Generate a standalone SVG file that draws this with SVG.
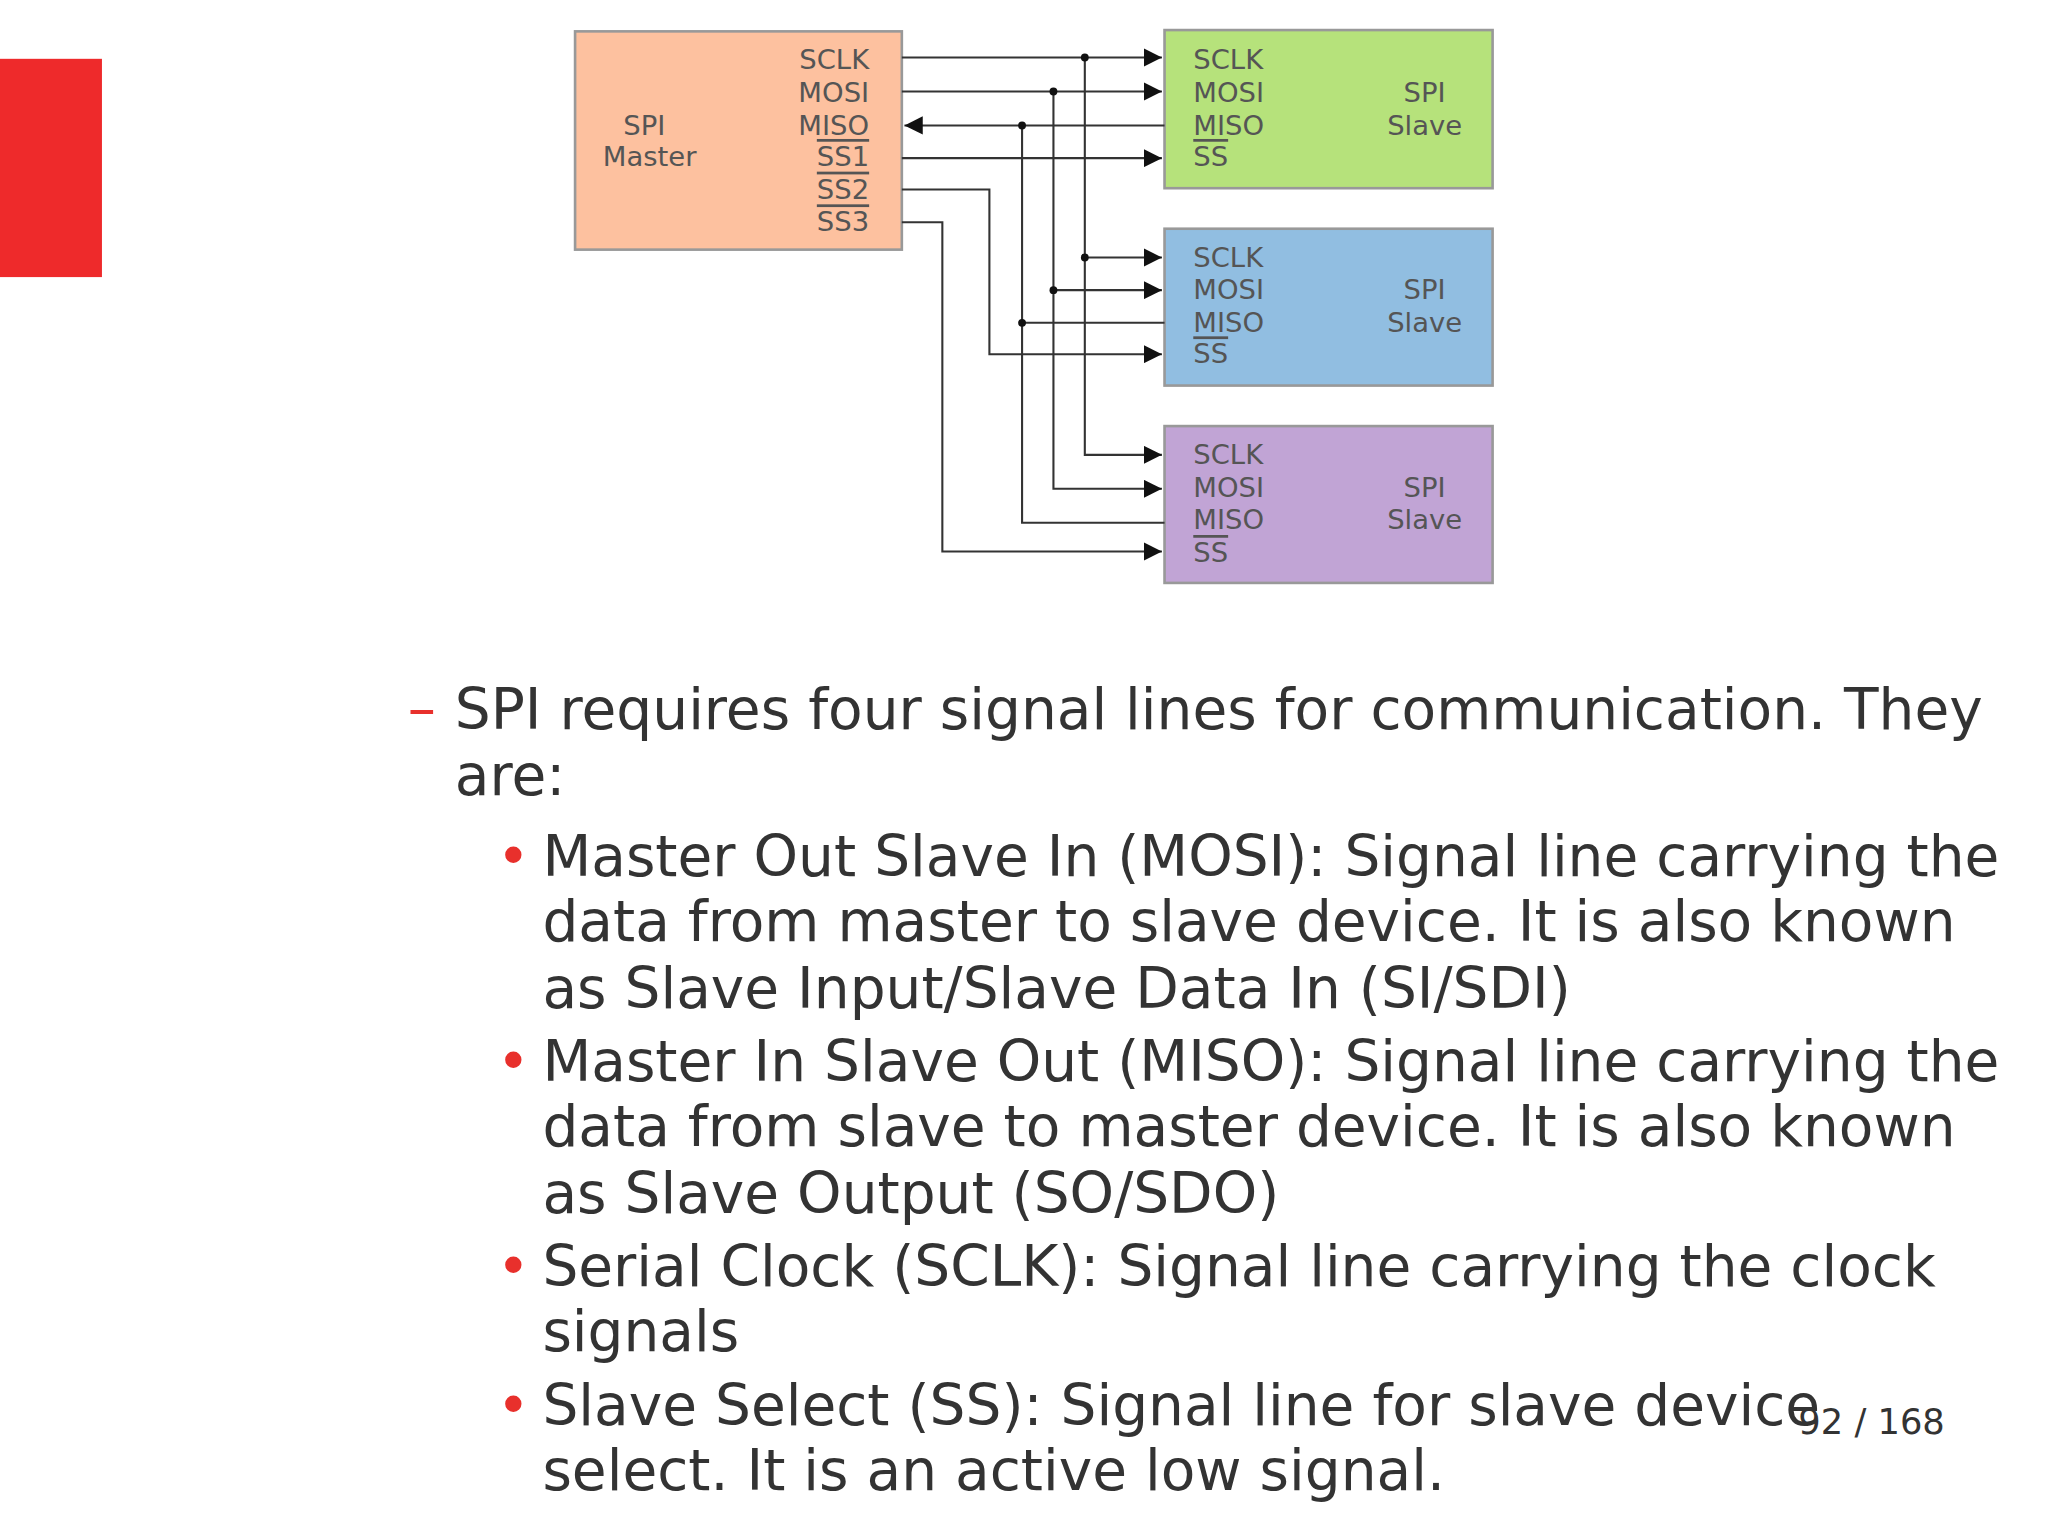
<svg xmlns="http://www.w3.org/2000/svg" width="2048" height="1536" viewBox="0 0 2048 1536">
<style>
.lbl{font-family:"DejaVu Sans",sans-serif;font-size:21px;fill:#555}
.w{stroke:#333;stroke-width:1.6;fill:none}
.b{font-family:"DejaVu Sans",sans-serif;font-size:43.3px;fill:#333}
.bul{font-family:"DejaVu Sans",sans-serif;font-size:43px;fill:#e8302c}
</style>
<defs><marker id="ah" viewBox="0 0 10 10" refX="10" refY="5" markerWidth="14" markerHeight="14" orient="auto" markerUnits="userSpaceOnUse"><path d="M0,0L10,5L0,10z" fill="#111"/></marker></defs>
<rect width="2048" height="1536" fill="#fff"/>
<g transform="scale(1.307)">
<rect x="0" y="45" width="78" height="167" fill="#ee2a2b"/>
<g id="master"><rect x="440" y="24" width="250" height="167" fill="#fdc19f" stroke="#999" stroke-width="2"/>
<text class="lbl" x="493" y="103" text-anchor="middle">SPI</text><text class="lbl" x="497" y="127" text-anchor="middle">Master</text>
<g text-anchor="end"><text class="lbl" x="665" y="53">SCLK</text><text class="lbl" x="665" y="78">MOSI</text><text class="lbl" x="665" y="103">MISO</text><text class="lbl" x="665" y="127" text-decoration="overline">SS1</text><text class="lbl" x="665" y="152" text-decoration="overline">SS2</text><text class="lbl" x="665" y="177" text-decoration="overline">SS3</text></g></g>
<g id="slave1"><rect x="891" y="23" width="251" height="121" fill="#b6e27b" stroke="#999" stroke-width="2"/>
<text class="lbl" x="913" y="53">SCLK</text><text class="lbl" x="913" y="78">MOSI</text><text class="lbl" x="913" y="103">MISO</text><text class="lbl" x="913" y="127" text-decoration="overline">SS</text>
<text class="lbl" x="1090" y="78" text-anchor="middle">SPI</text><text class="lbl" x="1090" y="103" text-anchor="middle">Slave</text></g>
<g id="slave2"><rect x="891" y="175" width="251" height="120" fill="#91bee1" stroke="#999" stroke-width="2"/>
<text class="lbl" x="913" y="204">SCLK</text><text class="lbl" x="913" y="229">MOSI</text><text class="lbl" x="913" y="254">MISO</text><text class="lbl" x="913" y="278" text-decoration="overline">SS</text>
<text class="lbl" x="1090" y="229" text-anchor="middle">SPI</text><text class="lbl" x="1090" y="254" text-anchor="middle">Slave</text></g>
<g id="slave3"><rect x="891" y="326" width="251" height="120" fill="#c1a4d5" stroke="#999" stroke-width="2"/>
<text class="lbl" x="913" y="355">SCLK</text><text class="lbl" x="913" y="380">MOSI</text><text class="lbl" x="913" y="405">MISO</text><text class="lbl" x="913" y="430" text-decoration="overline">SS</text>
<text class="lbl" x="1090" y="380" text-anchor="middle">SPI</text><text class="lbl" x="1090" y="405" text-anchor="middle">Slave</text></g>
<g id="connectors">
<path class="w" d="M690,44H889" marker-end="url(#ah)"/>
<path class="w" d="M690,70H889" marker-end="url(#ah)"/>
<path class="w" d="M891,96H692" marker-end="url(#ah)"/>
<path class="w" d="M690,121H889" marker-end="url(#ah)"/>
<path class="w" d="M830,44V348H889" marker-end="url(#ah)"/>
<path class="w" d="M806,70V374H889" marker-end="url(#ah)"/>
<path class="w" d="M782,96V400H891"/>
<path class="w" d="M830,197H889" marker-end="url(#ah)"/>
<path class="w" d="M806,222H889" marker-end="url(#ah)"/>
<path class="w" d="M782,247H891"/>
<path class="w" d="M690,145H757V271H889" marker-end="url(#ah)"/>
<path class="w" d="M690,170H721V422H889" marker-end="url(#ah)"/>
<g fill="#111"><circle cx="830" cy="44" r="3"/><circle cx="806" cy="70" r="3"/><circle cx="782" cy="96" r="3"/><circle cx="830" cy="197" r="3"/><circle cx="806" cy="222" r="3"/><circle cx="782" cy="247" r="3"/></g>
</g>
<text class="bul" x="312" y="557">–</text>
<text class="b" x="348" y="558">SPI requires four signal lines for communication. They</text>
<text class="b" x="348" y="608">are:</text>
<text class="bul" x="380" y="670">•</text><text class="bul" x="380" y="827">•</text><text class="bul" x="380" y="984">•</text><text class="bul" x="380" y="1090">•</text>
<text class="b" x="415" y="670">Master Out Slave In (MOSI): Signal line carrying the</text>
<text class="b" x="415" y="720">data from master to slave device. It is also known</text>
<text class="b" x="415" y="771">as Slave Input/Slave Data In (SI/SDI)</text>
<text class="b" x="415" y="827">Master In Slave Out (MISO): Signal line carrying the</text>
<text class="b" x="415" y="877">data from slave to master device. It is also known</text>
<text class="b" x="415" y="928">as Slave Output (SO/SDO)</text>
<text class="b" x="415" y="984">Serial Clock (SCLK): Signal line carrying the clock</text>
<text class="b" x="415" y="1034">signals</text>
<text class="b" x="415" y="1090">Slave Select (SS): Signal line for slave device</text>
<text class="b" x="415" y="1140">select. It is an active low signal.</text>
<text x="1488" y="1097" text-anchor="end" font-family="DejaVu Sans,sans-serif" font-size="27" fill="#333">92 / 168</text>
</g>
</svg>
